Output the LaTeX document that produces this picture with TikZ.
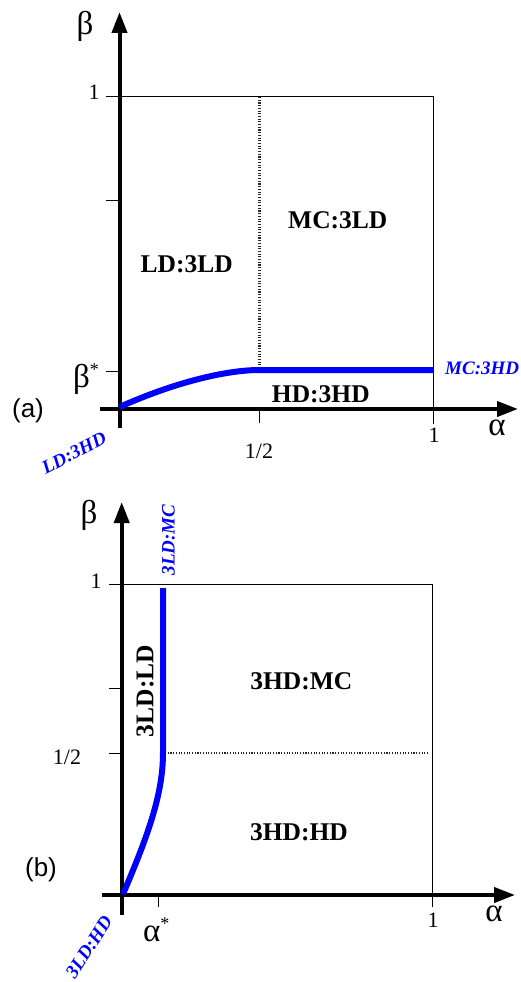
\documentclass[tikz,border=0pt]{standalone}
\usepackage{fontspec}
\setmainfont{Liberation Serif}
\newfontfamily\panelfont{Liberation Sans}
\usetikzlibrary{arrows.meta}

\begin{document}
\begin{tikzpicture}[x=1pt,y=-1pt,
 axis/.style={line width=4pt,-{Triangle[length=21pt,width=15pt]}},
 frame/.style={line width=0.9pt},
 crit/.style={line width=6pt,blue},
 sep/.style={line width=2.6pt,black!85,dash pattern=on 1.1pt off 1.6pt},
 phase/.style={inner sep=0pt,font=\fontsize{25.5}{28}\selectfont\bfseries},
 edgelbl/.style={inner sep=0pt,text=blue,font=\fontsize{19}{22}\selectfont\bfseries\itshape},
 num/.style={inner sep=0pt,font=\fontsize{22}{24}\selectfont},
 greek/.style={inner sep=0pt,font=\fontsize{33}{34}\selectfont},
 tag/.style={inner sep=0pt,font=\fontsize{26}{28}\selectfont\panelfont}]
\useasboundingbox (0,0) rectangle (520,982);
% (a)
\coordinate (oa) at (119.5,409);\coordinate (ya) at (119.5,12);\coordinate (xa) at (518,409);
\draw[frame] (106,96)--(433,96)--(433,424);
\draw[frame] (106,200)--(119.5,200);\draw[frame] (106,371)--(119.5,371);
\draw[frame] (259.5,409)--(259.5,423);
\draw[sep] (259.5,97)--(259.5,369);
\draw[axis] (119.5,428)--(ya);\draw[axis] (100,409)--(xa);
\draw[crit] (119.5,407) .. controls (180,380) and (230,370) .. (259.5,370)--(433,370);
\node[greek] (ba) at (85,26) {β};
\node[num] (onea) at (94,92) {1};
\node[greek,anchor=east] (bsa) at (99,379) {β\raisebox{0.35em}{\fontsize{18}{18}\selectfont *}};
\node[tag] (taga) at (28,411) {(a)};
\node[num] (halfa) at (259,451) {1/2};
\node[num] (onexa) at (434,435) {1};
\node[greek] (aa) at (497,428) {α};
\node[phase] (ld3ld) at (186.7,263.8) {LD:3LD};
\node[phase] (mc3ld) at (337.8,220.5) {MC:3LD};
\node[phase] (hd3hd) at (320.8,393.8) {HD:3HD};
\node[edgelbl,anchor=west] (mc3hd) at (445,368.5) {MC:3HD};
\node[edgelbl,rotate=27] (ld3hd) at (74,453) {LD:3HD};
% (b)
\coordinate (ob) at (121.7,895);\coordinate (yb) at (121.7,502);\coordinate (xb) at (515,895);
\draw[frame] (109,584)--(432,584)--(432,907);
\draw[frame] (109,688)--(121.7,688);\draw[frame] (109,753)--(121.7,753);
\draw[frame] (158,895)--(158,907);
\draw[sep] (165,753)--(428,753);
\draw[axis] (121.7,915)--(yb);\draw[axis] (102,895)--(xb);
\draw[crit] (123,894) .. controls (147,838) and (163,795) .. (163,753)--(163,588);
\node[greek] (bb) at (89,515) {β};
\node[num] (oneb) at (96,581) {1};
\node[num] (halfb) at (67,757) {1/2};
\node[tag] (tagb) at (41,870) {(b)};
\node[greek,anchor=west] (asb) at (143,930) {α\raisebox{0.35em}{\fontsize{18}{18}\selectfont *}};
\node[num] (onexb) at (433,920) {1};
\node[greek] (ab) at (494,914) {α};
\node[edgelbl,rotate=90] (ld3mc) at (168.5,540) {3LD:MC};
\node[phase,rotate=90] (ld3ldb) at (145,691) {3LD:LD};
\node[phase] (hd3mc) at (301.3,681) {3HD:MC};
\node[phase] (hd3hdb) at (299,832) {3HD:HD};
\node[edgelbl,rotate=57] (ld3hdb) at (89,947) {3LD:HD};
\end{tikzpicture}
\end{document}
